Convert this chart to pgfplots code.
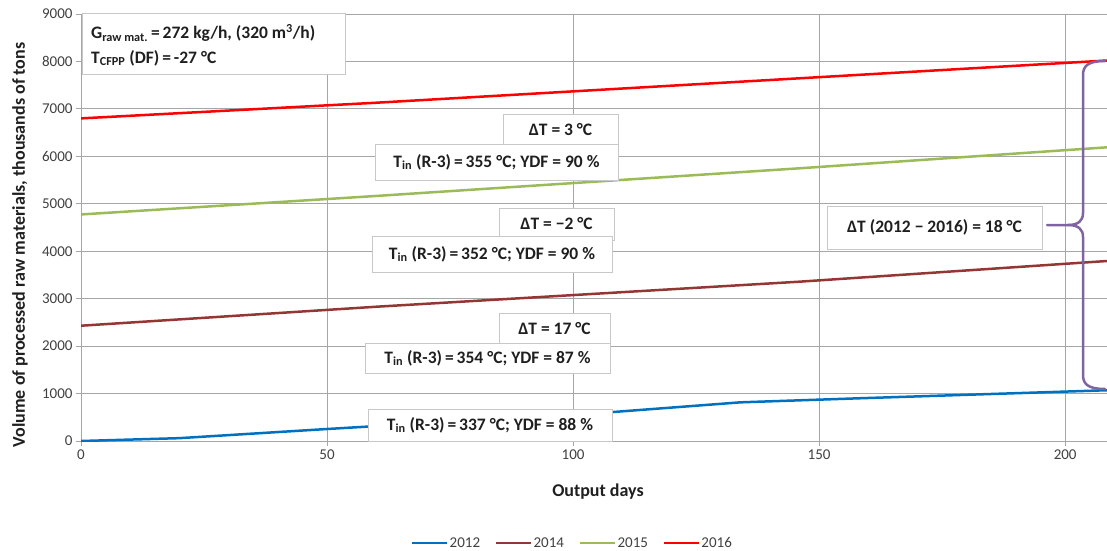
\documentclass[border=0pt]{standalone}
\usepackage{fontspec}
\setmainfont{Carlito}
\usepackage{pgfplots}
\pgfplotsset{compat=1.18}
\definecolor{c2012}{HTML}{0070C0}
\definecolor{c2014}{HTML}{943634}
\definecolor{c2015}{HTML}{9BBB59}
\definecolor{c2016}{HTML}{FF0000}
\definecolor{gridc}{HTML}{A6A6A6}
\definecolor{boxc}{HTML}{C8C8C8}
\definecolor{labc}{HTML}{404040}
\definecolor{txtc}{HTML}{1F1F1F}
\definecolor{bracec}{HTML}{8064A2}
\begin{document}
\begin{tikzpicture}[x=1pt,y=1pt]
\path[use as bounding box] (0,0) rectangle (1107,550);
\begin{axis}[
  scale only axis, width=1026pt, height=427pt,
  at={(81pt,109pt)}, anchor=south west,
  xmin=0, xmax=208.5, ymin=0, ymax=9000,
  xtick={0,50,100,150,200}, ytick={0,1000,...,9000},
  axis x line*=bottom, axis y line*=left,
  axis line style={draw=gridc, line width=1pt},
  grid=major, major grid style={draw=gridc, line width=1pt},
  tick align=outside, major tick length=5pt,
  tick style={draw=gridc, line width=1pt},
  ticklabel style={font=\fontsize{15}{18}\selectfont, text=labc},
  /pgf/number format/assume math mode=true,
  /pgf/number format/1000 sep={},
  legend style={at={(0.4786,-0.239)}, anchor=center, draw=none, fill=none,
    legend columns=4, font=\fontsize{15}{18}\selectfont, text=labc,
    /tikz/every even column/.append style={column sep=14pt},
    nodes={inner xsep=1pt}},
  legend image code/.code={\draw[#1] (0pt,0pt) -- (35pt,0pt);},
]
\addplot[c2012, line width=2.5pt] coordinates {(0,0) (20,60) (50,253) (58,302) (108,610) (134,815) (158,900) (208.5,1070)};
\addlegendentry{2012}
\addplot[c2014, line width=2.5pt] coordinates {(0,2430) (60,2830) (146,3358) (208.5,3794)};
\addlegendentry{2014}
\addplot[c2015, line width=2.5pt] coordinates {(0,4775) (60,5165) (146,5748) (208.5,6190)};
\addlegendentry{2015}
\addplot[c2016, line width=2.5pt] coordinates {(0,6800) (60,7130) (146,7645) (208.5,8020)};
\addlegendentry{2016}
\end{axis}
% axis labels
\node[font=\bfseries\fontsize{18}{21}\selectfont, text=txtc] at (598,58) {Output days};
\node[font=\bfseries\fontsize{18}{21}\selectfont, text=txtc, rotate=90] at (20,305) {Volume of processed raw materials, thousands of tons};
% annotation boxes
\tikzset{bx/.style={draw=boxc, fill=white, line width=0.8pt, inner sep=0pt, font=\bfseries\fontsize{17.5}{20}\selectfont, text=txtc}}
\node[bx, minimum width=263pt, minimum height=61pt] at (213.5,506.5) {};
\node[anchor=west, font=\bfseries\fontsize{17.5}{20}\selectfont, text=txtc, inner sep=0pt] at (91,517) {G\textsubscript{raw mat.}\,=\,272 kg/h, (320 m\textsuperscript{3}/h)};
\node[anchor=west, font=\bfseries\fontsize{17.5}{20}\selectfont, text=txtc, inner sep=0pt] at (91,492) {T\textsubscript{CFPP} (DF)\,=\,-27 °C};
\node[bx, minimum width=115pt, minimum height=32pt] at (560.5,420) {ΔT = 3 °C};
\node[bx, minimum width=243pt, minimum height=36pt] at (496.5,388) {T\textsubscript{in} (R-3)\,=\,355 °C; YDF = 90 \%};
\node[bx, minimum width=115pt, minimum height=32pt] at (556.5,326) {ΔT = −2 °C};
\node[bx, minimum width=240pt, minimum height=36pt] at (492,296) {T\textsubscript{in} (R-3)\,=\,352 °C; YDF = 90 \%};
\node[bx, minimum width=111pt, minimum height=32pt] at (554.5,221) {ΔT = 17 °C};
\node[bx, minimum width=245pt, minimum height=30pt] at (487.5,192) {T\textsubscript{in} (R-3)\,=\,354 °C; YDF = 87 \%};
\node[bx, minimum width=244pt, minimum height=32pt] at (490,125) {T\textsubscript{in} (R-3)\,=\,337 °C; YDF = 88 \%};
\node[bx, minimum width=215pt, minimum height=43pt] at (934.5,322.5) {ΔT (2012 − 2016) = 18 °C};
% brace
\draw[bracec, line width=2.5pt, line cap=round]
  (1105,489) .. controls (1088,489) and (1083,484) .. (1083,475) -- (1083,337)
  .. controls (1083,329) and (1078,325) .. (1068,325) -- (1047,325);
\draw[bracec, line width=2.5pt, line cap=round]
  (1068,325) .. controls (1078,325) and (1083,321) .. (1083,313) -- (1083,175)
  .. controls (1083,166) and (1088,161) .. (1105,161);
\end{tikzpicture}
\end{document}
